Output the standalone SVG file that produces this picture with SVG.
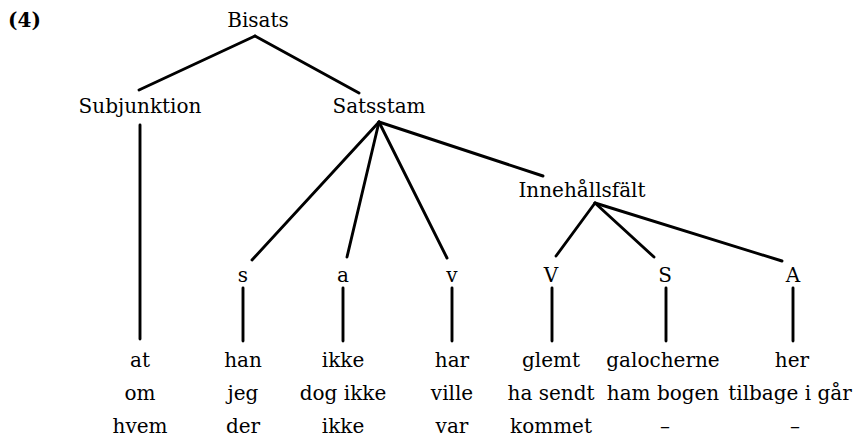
<svg xmlns="http://www.w3.org/2000/svg" width="859" height="437" viewBox="0 0 859 437">
  <style>
    text { font-family: "DejaVu Serif", "Liberation Serif", serif; font-size: 20px; fill: #000; text-anchor: middle; }
    .num { font-weight: bold; text-anchor: start; }
    .edge { stroke: #000; stroke-width: 2.9; stroke-linecap: round; fill: none; }
  </style>
  <rect width="859" height="437" fill="#fff"/>

  <text class="num" x="8" y="27">(4)</text>

  <!-- tree branches -->
  <g id="connectors">
    <line class="edge" x1="255" y1="36" x2="139" y2="90"/>
    <line class="edge" x1="255" y1="36" x2="359" y2="93"/>
    <line class="edge" x1="140" y1="125" x2="140" y2="339"/>
    <line class="edge" x1="379" y1="122" x2="252" y2="260"/>
    <line class="edge" x1="379" y1="122" x2="347" y2="257"/>
    <line class="edge" x1="379" y1="122" x2="447" y2="258"/>
    <line class="edge" x1="379" y1="122" x2="543" y2="176"/>
    <line class="edge" x1="595" y1="203" x2="556" y2="256"/>
    <line class="edge" x1="595" y1="203" x2="654" y2="257"/>
    <line class="edge" x1="595" y1="203" x2="782" y2="261"/>
    <line class="edge" x1="243" y1="288" x2="243" y2="341"/>
    <line class="edge" x1="343" y1="288" x2="343" y2="341"/>
    <line class="edge" x1="452" y1="288" x2="452" y2="341"/>
    <line class="edge" x1="552" y1="288" x2="552" y2="341"/>
    <line class="edge" x1="666" y1="288" x2="666" y2="341"/>
    <line class="edge" x1="793" y1="288" x2="793" y2="341"/>
  </g>

  <g id="bisats"><text x="258" y="27">Bisats</text></g>
  <g id="subjunktion"><text x="140" y="113">Subjunktion</text></g>
  <g id="satsstam"><text x="379" y="113">Satsstam</text></g>
  <g id="innehallsfalt"><text x="582" y="197">Innehållsfält</text></g>

  <g id="s"><text x="243" y="282">s</text></g>
  <g id="a"><text x="343" y="282">a</text></g>
  <g id="v"><text x="452" y="282">v</text></g>
  <g id="V"><text x="551" y="282">V</text></g>
  <g id="S"><text x="665" y="282">S</text></g>
  <g id="A"><text x="793" y="282">A</text></g>

  <!-- example fillers, one column per slot -->
  <g id="col-subjunktion">
    <text x="140" y="367">at</text>
    <text x="140" y="400">om</text>
    <text x="140" y="433">hvem</text>
  </g>
  <g id="col-s">
    <text x="243" y="367">han</text>
    <text x="243" y="400">jeg</text>
    <text x="243" y="433">der</text>
  </g>
  <g id="col-a">
    <text x="343" y="367">ikke</text>
    <text x="343" y="400">dog ikke</text>
    <text x="343" y="433">ikke</text>
  </g>
  <g id="col-v">
    <text x="452" y="367">har</text>
    <text x="452" y="400">ville</text>
    <text x="452" y="433">var</text>
  </g>
  <g id="col-V">
    <text x="551" y="367">glemt</text>
    <text x="551" y="400">ha sendt</text>
    <text x="551" y="433">kommet</text>
  </g>
  <g id="col-S">
    <text x="663" y="367">galocherne</text>
    <text x="663" y="400">ham bogen</text>
    <text x="665" y="433">–</text>
  </g>
  <g id="col-A">
    <text x="792" y="367">her</text>
    <text x="790" y="400">tilbage i går</text>
    <text x="795" y="433">–</text>
  </g>
</svg>
